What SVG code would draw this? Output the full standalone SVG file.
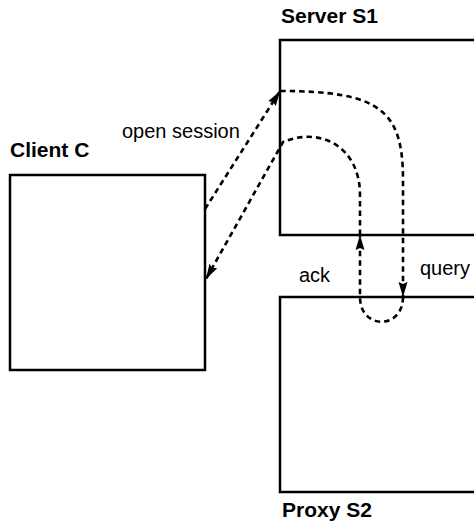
<svg xmlns="http://www.w3.org/2000/svg" width="474" height="521" viewBox="0 0 474 521">
  <style>
    .box { fill: #ffffff; stroke: #000000; stroke-width: 2.5; }
    .title { font-family: "Liberation Sans", Arial, sans-serif; font-weight: bold; font-size: 21px; fill: #000000; }
    .label { font-family: "Liberation Sans", Arial, sans-serif; font-size: 20px; fill: #000000; }
    .msg { fill: none; stroke: #000000; stroke-width: 2.6; stroke-dasharray: 5.5 4; }
  </style>
  <defs>
    <marker id="arrow" markerUnits="userSpaceOnUse" markerWidth="16" markerHeight="12" refX="15" refY="6" orient="auto">
      <path d="M0,1.5 L15,6 L0,10.5 L2,6 Z" fill="#000000"/>
    </marker>
  </defs>
  <rect width="474" height="521" fill="#ffffff"/>

  <g id="client-c">
    <rect class="box" x="10" y="175" width="195" height="195"/>
    <text class="title" x="10" y="157">Client C</text>
  </g>

  <g id="server-s1">
    <rect class="box" x="280" y="40" width="200" height="195"/>
    <text class="title" x="281" y="23">Server S1</text>
  </g>

  <g id="proxy-s2">
    <rect class="box" x="280" y="297" width="200" height="195"/>
    <text class="title" x="282" y="517">Proxy S2</text>
  </g>

  <g id="connectors">
    <path class="msg" d="M205,209 L280,91" marker-end="url(#arrow)"/>
    <path class="msg" d="M280,91 C380,91 403,110 403,180 L403,297" marker-end="url(#arrow)"/>
    <path class="msg" d="M403,297 C403,330 360,330 360,297 L360,235" marker-end="url(#arrow)"/>
    <path class="msg" d="M360,235 L360,195 C360,148 322,126 283,142 L206,279" marker-end="url(#arrow)"/>
    <text class="label" x="122" y="138">open session</text>
    <text class="label" x="299" y="282">ack</text>
    <text class="label" x="420" y="275">query</text>
  </g>
</svg>
